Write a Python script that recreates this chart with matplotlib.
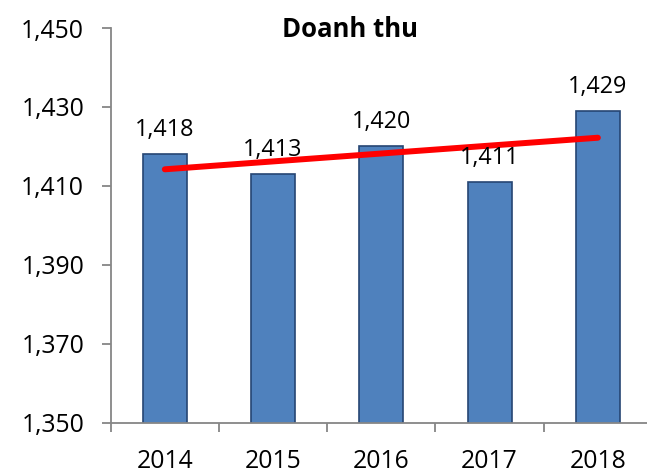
import matplotlib
matplotlib.use("Agg")
import matplotlib.pyplot as plt
import numpy as np

years = ["2014", "2015", "2016", "2017", "2018"]
revenue = [1418, 1413, 1420, 1411, 1429]
y_ticks = [1350, 1370, 1390, 1410, 1430, 1450]
title = "Doanh thu"

plt.rcParams['font.family'] = ['Open Sans', 'DejaVu Sans']

W, H = 647, 473
fig = plt.figure(figsize=(W / 100, H / 100), dpi=100)
ax_left, ax_right = 110.7, 652.0
ax_top, ax_bottom = 28.0, 422.7
ax = fig.add_axes([ax_left / W, 1 - ax_bottom / H,
                   (ax_right - ax_left) / W, (ax_bottom - ax_top) / H])

x = np.arange(len(years))
ax.bar(x, revenue, width=0.406, color="#4F81BD", edgecolor="#264673",
       linewidth=1.2, zorder=2)

# linear trend line
coef = np.polyfit(x, revenue, 1)
ax.plot([x[0], x[-1]], np.polyval(coef, [x[0], x[-1]]), color="#FF0000",
        linewidth=4.3, solid_capstyle="round", zorder=4)

for xi, v in zip(x, revenue):
    ax.annotate(f"{v:,}", (xi, v), xytext=(0, 13), textcoords="offset points",
                ha="center", va="baseline", fontsize=16.8, color="#000000",
                zorder=5)

ax.set_xlim(-0.5, len(years) - 0.5)
ax.set_ylim(y_ticks[0], y_ticks[-1])
ax.set_yticks(y_ticks)
ax.set_yticklabels([f"{t:,}" for t in y_ticks])
ax.set_xticks(x)
ax.set_xticklabels(years)
ax.set_xticks(np.arange(-0.5, len(years), 1.0), minor=True)

grey = "#868686"
for s in ["top", "right"]:
    ax.spines[s].set_visible(False)
for s in ["left", "bottom"]:
    ax.spines[s].set_color(grey)
    ax.spines[s].set_linewidth(1.3)
ax.tick_params(axis="y", direction="out", length=6.6, width=1.3, color=grey,
               labelsize=17.8, pad=12.5, labelcolor="#000000")
ax.tick_params(axis="x", which="major", length=0, labelsize=17.8, pad=19,
               labelcolor="#000000")
ax.tick_params(axis="x", which="minor", direction="out", length=6.6,
               width=1.3, color=grey)

fig.text(350 / W, 1 - 37 / H, title, ha="center", va="baseline",
         fontsize=18.5, fontweight="bold", color="#000000")

fig.savefig("out.png", dpi=100)
